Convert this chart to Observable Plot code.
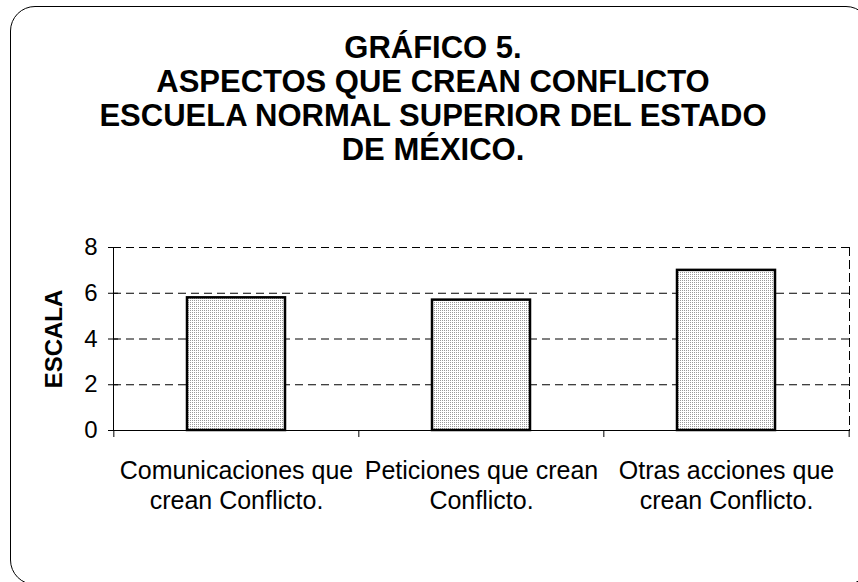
<!DOCTYPE html>
<html><head><meta charset="utf-8">
<script src="https://cdn.jsdelivr.net/npm/d3@7"></script>
<script src="https://cdn.jsdelivr.net/npm/@observablehq/plot@0.6"></script>
<style>
body{margin:0;background:#fff;}
#wrap{position:relative;width:858px;height:582px;overflow:hidden;font-family:"Liberation Sans",Arial,sans-serif;}
#box{position:absolute;left:10px;top:6px;width:861px;height:579px;box-sizing:border-box;border:1.5px solid #000;border-radius:25px;}
#title{position:absolute;left:10px;top:31px;width:846px;text-align:center;font-weight:bold;font-size:31px;line-height:34px;color:#000;}
#chart{position:absolute;left:0;top:0;}
</style></head><body>
<div id="wrap"><div id="box"></div><div id="title"></div><div id="chart"></div></div>
<script>
const titleLines = ["GRÁFICO 5.", "ASPECTOS QUE CREAN CONFLICTO", "ESCUELA NORMAL SUPERIOR DEL ESTADO", "DE MÉXICO."];
const categories = ["Comunicaciones", "Peticiones", "Otras acciones"];
const categoryLabels = ["Comunicaciones que\ncrean Conflicto.", "Peticiones que crean\nConflicto.", "Otras acciones que\ncrean Conflicto."];
const values = [5.8, 5.7, 7.0];
const yTicks = [0, 2, 4, 6, 8];
const yLabel = "ESCALA";

document.getElementById("title").innerHTML = titleLines.map(t => `<div>${t}</div>`).join("");

const W = 858, H = 582, ML = 113, MR = 9, MT = 247, MB = 152;
const step = (W - ML - MR) / categories.length;
const data = categories.map((c, i) => ({cat: c, value: values[i]}));
const labelOf = new Map(categories.map((c, i) => [c, categoryLabels[i]]));
const last = [categories[categories.length - 1]];

const plot = Plot.plot({
  width: W, height: H,
  marginLeft: ML, marginRight: MR, marginTop: MT, marginBottom: MB,
  style: {fontFamily: "'Liberation Sans', Arial, sans-serif", fontSize: "24px", color: "#000", background: "transparent", overflow: "visible"},
  x: {domain: categories, paddingInner: 0.6, paddingOuter: 0.3, label: null},
  y: {domain: [0, 8], label: null},
  marks: [
    Plot.ruleY(yTicks.filter(d => d > 0), {stroke: "#000", strokeWidth: 1, strokeDasharray: "8,5"}),
    Plot.frame({anchor: "right", stroke: "#000", strokeWidth: 1, strokeDasharray: "8,5"}),
    Plot.rectY(data, {x: "cat", y: "value", fill: "url(#dots)", stroke: "#000", strokeWidth: 2.5}),
    Plot.frame({anchor: "left", stroke: "#000", strokeWidth: 1}),
    Plot.ruleY([0], {stroke: "#000", strokeWidth: 1}),
    Plot.ruleX(categories, {x: d => d, y1: d => 0, y2: d => 0, dx: -step / 2, insetBottom: -7, stroke: "#000"}),
    Plot.ruleX(last, {x: d => d, y1: d => 0, y2: d => 0, dx: step / 2, insetBottom: -7, stroke: "#000"}),
    Plot.axisY({ticks: yTicks, tickSize: 5, tickPadding: 11, label: null, fontSize: 24}),
    Plot.axisY({ticks: yTicks, tickSize: 5, dx: 5, tickFormat: () => "", label: null}),
    Plot.axisX({tickSize: 0, tickPadding: 27, tickFormat: c => labelOf.get(c), lineHeight: 1.2, label: null, fontSize: 25}),
    Plot.text([yLabel], {frameAnchor: "left", textAnchor: "middle", rotate: -90, dx: -59, fontWeight: "bold", fontSize: 24, text: d => d})
  ]
});

const ns = "http://www.w3.org/2000/svg";
const svg = plot.tagName.toLowerCase() === "svg" ? plot : plot.querySelector("svg");
const defs = document.createElementNS(ns, "defs");
defs.innerHTML = '<pattern id="dots" width="2" height="2" patternUnits="userSpaceOnUse"><rect width="2" height="2" fill="#ffffff"/><rect width="1" height="1" fill="#999999"/></pattern>';
svg.insertBefore(defs, svg.firstChild);
document.getElementById("chart").appendChild(plot);
</script>
</body></html>
